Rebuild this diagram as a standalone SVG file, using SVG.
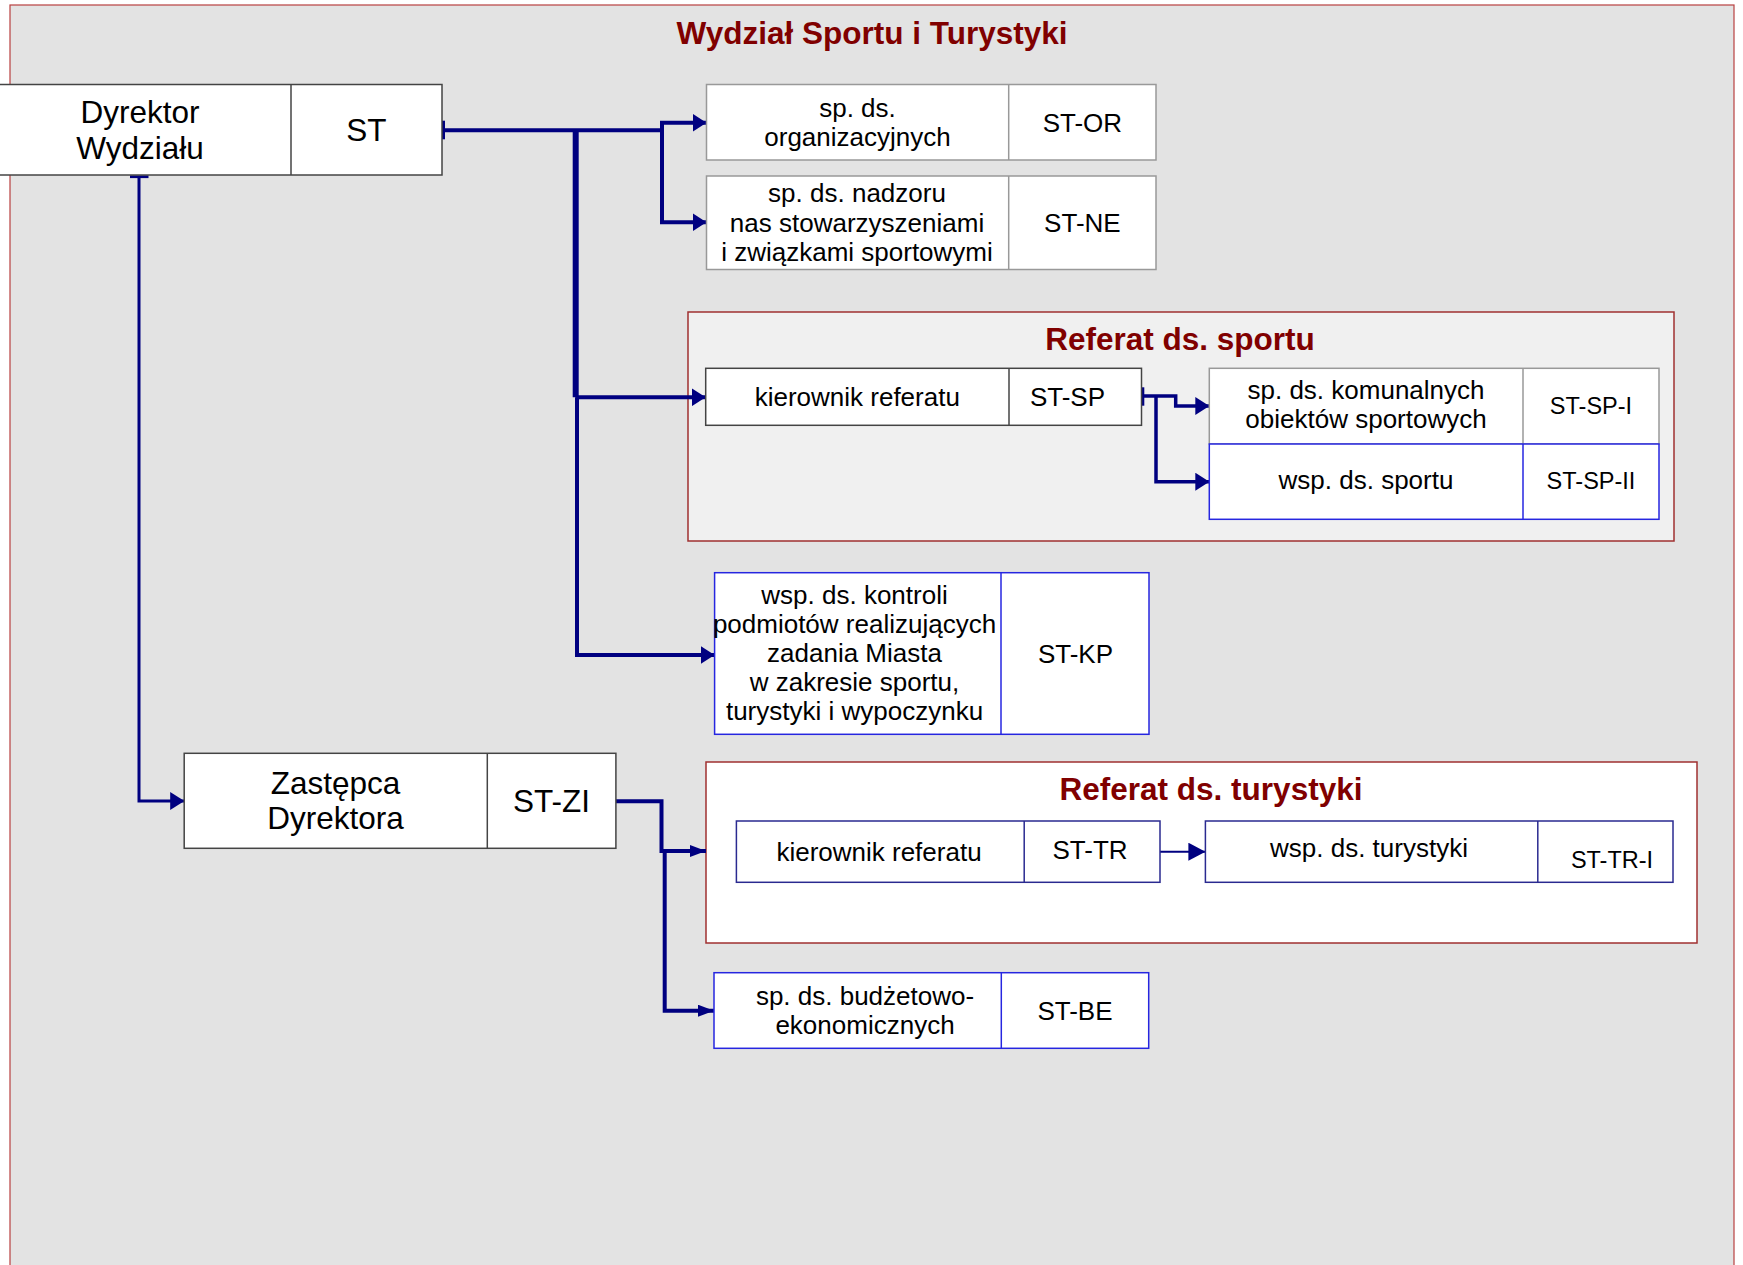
<svg xmlns="http://www.w3.org/2000/svg" width="1743" height="1265" viewBox="0 0 1743 1265">
<defs>
<style>
text{font-family:"Liberation Sans",Arial,sans-serif;fill:#000;text-anchor:middle}
.big{font-size:31.5px}
.mid{font-size:26px}
.sm{font-size:23.5px}
.ttl{font-size:31.5px;font-weight:bold;fill:#800000}
.box{fill:#fff}
.gray{stroke:#999;stroke-width:1.5}
.dark{stroke:#444;stroke-width:1.5}
.blue{stroke:#2626e0;stroke-width:1.5}
.navy{stroke:#2a2a90;stroke-width:1.5}
.con{fill:none;stroke:#000080;stroke-linejoin:miter}
</style>
<marker id="ab" markerUnits="userSpaceOnUse" markerWidth="14" markerHeight="18" refX="14" refY="9" orient="auto"><polygon points="0,0 14,9 0,18" fill="#000080"/></marker>
<marker id="as" markerUnits="userSpaceOnUse" markerWidth="16" markerHeight="12" refX="16" refY="6" orient="auto"><polygon points="0,0 16,6 0,12" fill="#000080"/></marker>
<marker id="at" markerUnits="userSpaceOnUse" markerWidth="17" markerHeight="18" refX="17" refY="9" orient="auto"><polygon points="0,0 17,9 0,18" fill="#000080"/></marker>
</defs>

<rect x="10" y="5" width="1724" height="1275" fill="#e3e3e3" stroke="#b84040" stroke-width="1.2"/>
<text class="ttl" x="872" y="44">Wydział Sportu i Turystyki</text>

<g id="referat-sportu">
<rect x="688" y="312" width="986" height="229" fill="#f0f0f0" stroke="#a03030" stroke-width="1.5"/>
<text class="ttl" x="1180" y="350">Referat ds. sportu</text>
</g>
<g id="referat-turystyki">
<rect x="706" y="762" width="991" height="181" fill="#fff" stroke="#a03030" stroke-width="1.5"/>
<text class="ttl" x="1211" y="800">Referat ds. turystyki</text>
</g>

<g id="connectors">
<path class="con" stroke-width="4" d="M444,130.3 H662 V122.7 H706.5" marker-end="url(#ab)"/>
<path class="con" stroke-width="4" d="M662,130.3 V222.3 H706.5" marker-end="url(#ab)"/>
<path class="con" stroke-width="6" d="M575.7,130.3 V397.3"/>
<path class="con" stroke-width="4" d="M575.7,397.3 H705.7" marker-end="url(#ab)"/>
<path class="con" stroke-width="4" d="M577,397.3 V655 H714.6" marker-end="url(#ab)"/>
<path class="con" stroke-width="3.5" d="M1144,396 H1175.7 V406 H1209.3" marker-end="url(#ab)"/>
<path class="con" stroke-width="3.5" d="M1156,396 V481.7 H1209.3" marker-end="url(#ab)"/>
<path class="con" stroke-width="3" d="M139,178 V801 H184.2" marker-end="url(#ab)"/>
<path class="con" stroke-width="4" d="M616,801.3 H661.5 V851 H706" marker-end="url(#as)"/>
<path class="con" stroke-width="4" d="M664.7,851 V1010.7 H714" marker-end="url(#as)"/>
<path class="con" stroke="#3a3a9a" stroke-width="2" d="M1160,851.7 H1205.4" marker-end="url(#at)"/>
<rect x="442" y="120.7" width="3" height="18.6" fill="#000080"/>
<rect x="1141.7" y="387.3" width="2.6" height="18.4" fill="#000080"/>
<rect x="130" y="175.3" width="18.5" height="2.8" fill="#000080"/>
</g>

<g id="dyrektor">
<rect class="box dark" x="-12" y="84.5" width="454" height="90.5"/>
<line class="dark" x1="291" y1="84.5" x2="291" y2="175"/>
<text class="big" x="140" y="123.3">Dyrektor</text>
<text class="big" x="140" y="159.3">Wydziału</text>
<text class="big" x="366.5" y="140.7">ST</text>
</g>

<g id="st-or">
<rect class="box gray" x="706.5" y="84.5" width="449.5" height="75.5"/>
<line class="gray" x1="1008.7" y1="84.5" x2="1008.7" y2="160"/>
<text class="mid" x="857.5" y="117">sp. ds.</text>
<text class="mid" x="857.5" y="146">organizacyjnych</text>
<text class="mid" x="1082.4" y="131.5">ST-OR</text>
</g>

<g id="st-ne">
<rect class="box gray" x="706.5" y="176" width="449.5" height="93.5"/>
<line class="gray" x1="1008.7" y1="176" x2="1008.7" y2="269.5"/>
<text class="mid" x="857" y="202">sp. ds. nadzoru</text>
<text class="mid" x="857" y="231.5">nas stowarzyszeniami</text>
<text class="mid" x="857" y="260.5">i związkami sportowymi</text>
<text class="mid" x="1082.4" y="231.5">ST-NE</text>
</g>

<g id="st-sp">
<rect class="box dark" x="705.7" y="368.3" width="435.8" height="57"/>
<line class="dark" x1="1009" y1="368.3" x2="1009" y2="425.3"/>
<text class="mid" x="857.3" y="405.7">kierownik referatu</text>
<text class="mid" x="1067.5" y="405.7">ST-SP</text>
</g>

<g id="st-sp-i">
<rect class="box gray" x="1209.3" y="368.3" width="449.7" height="75.7"/>
<line class="gray" x1="1523" y1="368.3" x2="1523" y2="444"/>
<text class="mid" x="1366" y="399">sp. ds. komunalnych</text>
<text class="mid" x="1366" y="428">obiektów sportowych</text>
<text class="sm" x="1591" y="414">ST-SP-I</text>
</g>

<g id="st-sp-ii">
<rect class="box blue" x="1209.3" y="444" width="449.7" height="75.3"/>
<line class="blue" x1="1523" y1="444" x2="1523" y2="519.3"/>
<text class="mid" x="1366" y="489">wsp. ds. sportu</text>
<text class="sm" x="1591" y="489">ST-SP-II</text>
</g>

<g id="st-kp">
<rect class="box blue" x="714.6" y="572.7" width="434.4" height="161.6"/>
<line class="blue" x1="1001" y1="572.7" x2="1001" y2="734.3"/>
<text class="mid" x="854.5" y="604">wsp. ds. kontroli</text>
<text class="mid" x="854.5" y="633">podmiotów realizujących</text>
<text class="mid" x="854.5" y="662">zadania Miasta</text>
<text class="mid" x="854.5" y="691">w zakresie sportu,</text>
<text class="mid" x="854.5" y="720">turystyki i wypoczynku</text>
<text class="mid" x="1075.5" y="663">ST-KP</text>
</g>

<g id="zastepca">
<rect class="box dark" x="184.2" y="753.3" width="431.7" height="95"/>
<line class="dark" x1="487.3" y1="753.3" x2="487.3" y2="848.3"/>
<text class="big" x="335.5" y="794">Zastępca</text>
<text class="big" x="335.5" y="829.3">Dyrektora</text>
<text class="big" x="551.5" y="811.7">ST-ZI</text>
</g>

<g id="st-tr">
<rect class="box navy" x="736.4" y="821" width="423.6" height="61.3"/>
<line class="navy" x1="1024.2" y1="821" x2="1024.2" y2="882.3"/>
<text class="mid" x="879" y="861">kierownik referatu</text>
<text class="mid" x="1090" y="859">ST-TR</text>
</g>

<g id="st-tr-i">
<rect class="box navy" x="1205.4" y="821" width="467.6" height="61.3"/>
<line class="navy" x1="1537.8" y1="821" x2="1537.8" y2="882.3"/>
<text class="mid" x="1369" y="857">wsp. ds. turystyki</text>
<text class="sm" x="1612" y="868">ST-TR-I</text>
</g>

<g id="st-be">
<rect class="box blue" x="714" y="972.7" width="434.7" height="75.6"/>
<line class="blue" x1="1001.3" y1="972.7" x2="1001.3" y2="1048.3"/>
<text class="mid" x="865" y="1005">sp. ds. budżetowo-</text>
<text class="mid" x="865" y="1034">ekonomicznych</text>
<text class="mid" x="1075" y="1020">ST-BE</text>
</g>
</svg>
